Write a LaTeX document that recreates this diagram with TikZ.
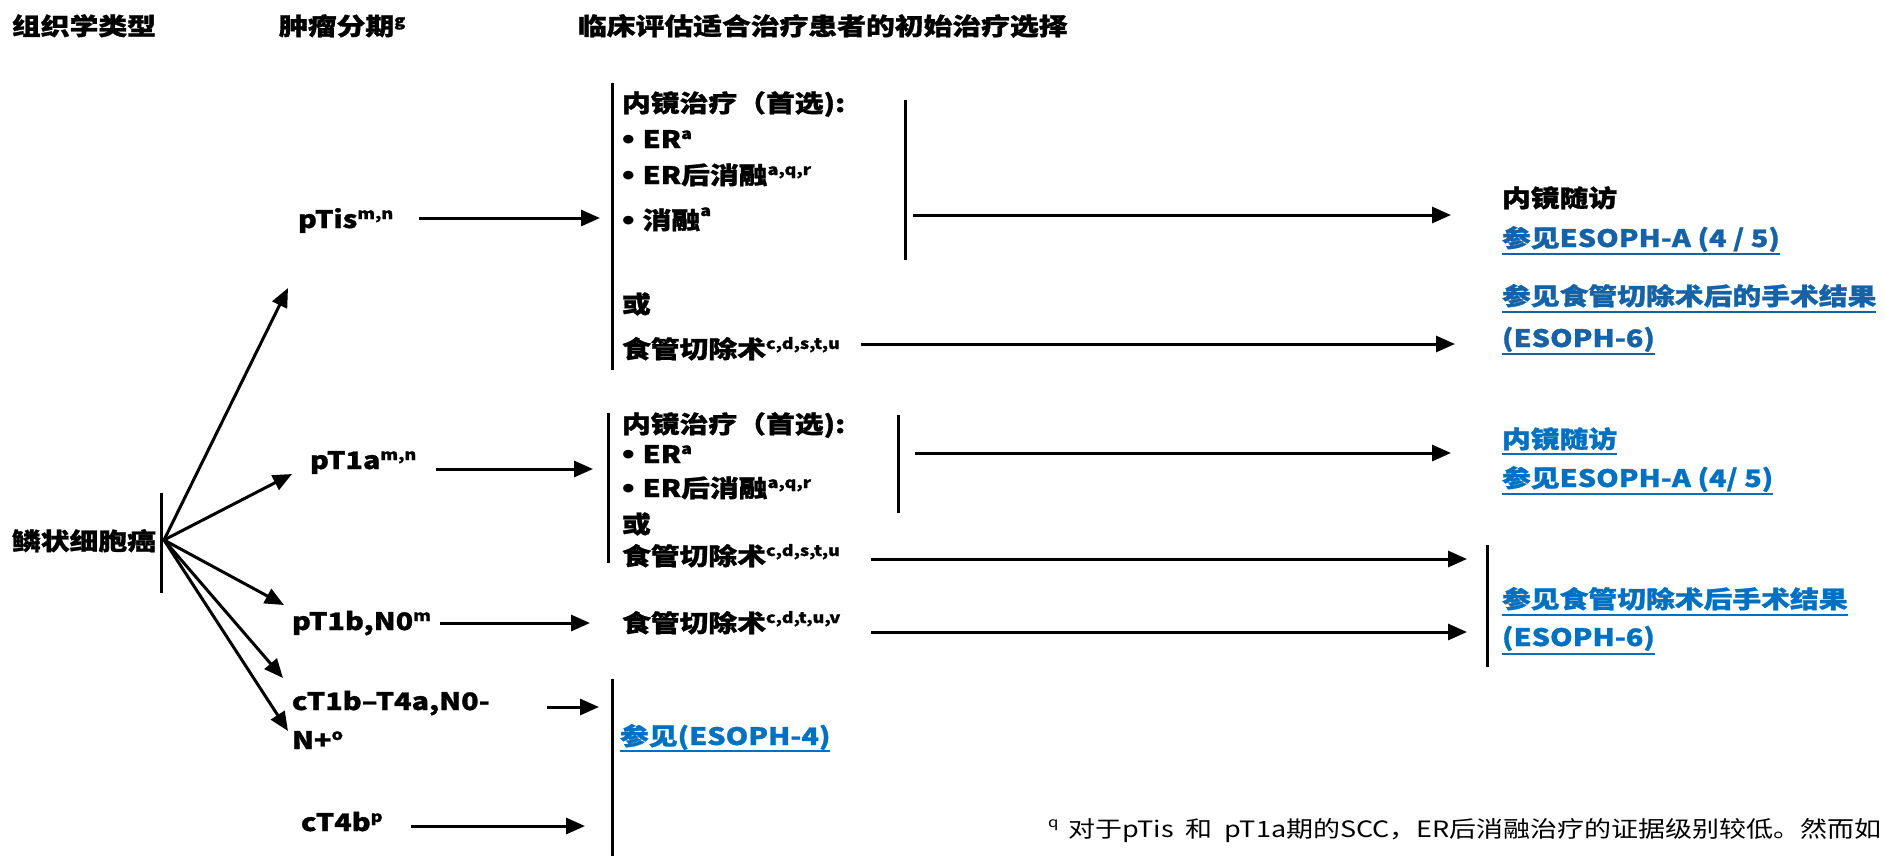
\documentclass[tikz,border=0pt]{standalone}
\usepackage{fontspec}
\setmainfont{Noto Sans CJK SC}[FakeStretch=1.2, BoldFeatures={FakeBold=1.2}]
\newfontfamily\bulf{Liberation Sans}[FakeStretch=1.2]
\usetikzlibrary{arrows.meta}
\definecolor{linkA}{RGB}{22,98,166}
\definecolor{linkB}{RGB}{0,112,192}
\newcommand\sps[1]{\raisebox{9pt}{\fontsize{15}{15}\selectfont #1}}
\newcommand\bul{{\bulf\fontsize{30}{30}\selectfont\raisebox{-1pt}{\textbullet}\fontsize{24}{24}\selectfont\ }}
\begin{document}
\begin{tikzpicture}[x=1pt,y=-1pt,
  txt/.style={anchor=base west, inner sep=0pt, outer sep=0pt, font=\bfseries\fontsize{24}{28}\selectfont},
  lnkA/.style={txt, text=linkA},
  lnkB/.style={txt, text=linkB},
  arr/.style={line width=3pt, -{Triangle[length=19pt,width=16pt]}},
  bar/.style={line width=3pt},
  ulA/.style={line width=2.6pt, draw=linkA},
  ulB/.style={line width=2.6pt, draw=linkB},
  note/.style={anchor=base west, inner sep=0pt, outer sep=0pt, font=\fontsize{22.5}{27}\selectfont}]
\useasboundingbox (0,0) rectangle (1885,855);
\clip (0,0) rectangle (1885,855);

% headers
\node[txt] (h1) at (12,35) {组织学类型};
\node[txt] (h2) at (279,35) {肿瘤分期\sps{g}};
\node[txt] (h3) at (578,35) {临床评估适合治疗患者的初始治疗选择};

% histology
\node[txt] (scc) at (12,550) {鳞状细胞癌};
\draw[bar] (161,493) coordinate (sccTop) -- (161,593) coordinate (sccBot);
\coordinate (o) at (164,540);

% stages
\node[txt] (ptis) at (298,228) {pTis\sps{m,n}};
\node[txt] (pt1a) at (310,469) {pT1a\sps{m,n}};
\node[txt] (pt1b) at (292,630) {pT1b,N0\sps{m}};
\node[txt] (ct1b) at (292,710) {cT1b–T4a,N0-};
\node[txt] (ct1bb) at (292,749) {N+\sps{o}};
\node[txt] (ct4b) at (301,831) {cT4b\sps{p}};

\coordinate (tPtis) at (288,288);
\coordinate (tPt1a) at (292,474);
\coordinate (tPt1b) at (284,605);
\coordinate (tCt1) at (283,678);
\coordinate (tCt2) at (288,731);
\draw[arr] (o) -- (tPtis);
\draw[arr] (o) -- (tPt1a);
\draw[arr] (o) -- (tPt1b);
\draw[arr] (o) -- (tCt1);
\draw[arr] (o) -- (tCt2);

% group 1 (pTis)
\draw[bar] (612,83) coordinate (b1t) -- (612,370) coordinate (b1b);
\node[txt] (g1a) at (622,112) {内镜治疗（首选):};
\node[txt] (g1b) at (622,148) {\bul ER\sps{a}};
\node[txt] (g1c) at (622,184) {\bul ER后消融\sps{a,q,r}};
\node[txt] (g1d) at (622,229) {\bul 消融\raisebox{13pt}{\fontsize{15}{15}\selectfont a}};
\node[txt] (g1e) at (622,313) {或};
\node[txt] (g1f) at (622,358) {食管切除术\sps{c,d,s,t,u}};
\draw[bar] (905,100) coordinate (b1rt) -- (905,260) coordinate (b1rb);

\coordinate (aPtisS) at (419,218);
\coordinate (aPtisE) at (600,218);
\draw[arr] (aPtisS) -- (aPtisE);
\coordinate (g1EndoS) at (913,215);
\coordinate (g1EndoE) at (1451,215);
\draw[arr] (g1EndoS) -- (g1EndoE);
\coordinate (g1EsoS) at (861,344);
\coordinate (g1EsoE) at (1455,344);
\draw[arr] (g1EsoS) -- (g1EsoE);

\node[txt] (r1a) at (1502,207) {内镜随访};
\node[lnkA] (r1b) at (1502,247) {参见ESOPH-A (4 / 5)};
\node[lnkA] (r1c) at (1502,305) {参见食管切除术后的手术结果};
\node[lnkA] (r1d) at (1502,347) {(ESOPH-6)};
\draw[ulA] ([yshift=-7pt]r1b.base west) -- ([yshift=-7pt]r1b.base east);
\draw[ulA] ([yshift=-7pt]r1c.base west) -- ([yshift=-7pt]r1c.base east);
\draw[ulA] ([yshift=-7pt]r1d.base west) -- ([yshift=-7pt]r1d.base east);

% group 2 (pT1a)
\draw[bar] (608,413) coordinate (b2t) -- (608,563) coordinate (b2b);
\node[txt] (g2a) at (622,433) {内镜治疗（首选):};
\node[txt] (g2b) at (622,463) {\bul ER\sps{a}};
\node[txt] (g2c) at (622,497) {\bul ER后消融\sps{a,q,r}};
\node[txt] (g2d) at (622,533) {或};
\node[txt] (g2e) at (622,565) {食管切除术\sps{c,d,s,t,u}};
\node[txt] (g2f) at (622,632) {食管切除术\sps{c,d,t,u,v}};
\draw[bar] (898,415) coordinate (b2rt) -- (898,513) coordinate (b2rb);

\coordinate (aPt1aS) at (436,469);
\coordinate (aPt1aE) at (593,469);
\draw[arr] (aPt1aS) -- (aPt1aE);
\coordinate (aPt1bS) at (440,623);
\coordinate (aPt1bE) at (590,623);
\draw[arr] (aPt1bS) -- (aPt1bE);
\coordinate (g2EndoS) at (915,453);
\coordinate (g2EndoE) at (1451,453);
\draw[arr] (g2EndoS) -- (g2EndoE);
\coordinate (g2EsoS) at (871,559);
\coordinate (g2EsoE) at (1467,559);
\draw[arr] (g2EsoS) -- (g2EsoE);
\coordinate (g3EsoS) at (871,632);
\coordinate (g3EsoE) at (1467,632);
\draw[arr] (g3EsoS) -- (g3EsoE);

\node[lnkB] (r2a) at (1502,448) {内镜随访};
\node[lnkB] (r2b) at (1502,487) {参见ESOPH-A (4/ 5)};
\draw[ulB] ([yshift=-6pt]r2a.base west) -- ([yshift=-6pt]r2a.base east);
\draw[ulB] ([yshift=-7pt]r2b.base west) -- ([yshift=-7pt]r2b.base east);
\draw[bar] (1487,545) coordinate (bRt) -- (1487,667) coordinate (bRb);
\node[lnkB] (r2c) at (1502,608) {参见食管切除术后手术结果};
\node[lnkB] (r2d) at (1502,646) {(ESOPH-6)};
\draw[ulB] ([yshift=-7pt]r2c.base west) -- ([yshift=-7pt]r2c.base east);
\draw[ulB] ([yshift=-8pt]r2d.base west) -- ([yshift=-8pt]r2d.base east);

% group 3
\coordinate (aCt1S) at (547,707);
\coordinate (aCt1E) at (599,707);
\draw[arr] (aCt1S) -- (aCt1E);
\coordinate (aCt4S) at (411,826);
\coordinate (aCt4E) at (585,826);
\draw[arr] (aCt4S) -- (aCt4E);
\draw[bar] (612,679) coordinate (b3t) -- (612,870) coordinate (b3b);
\node[lnkB] (r3) at (620,745) {参见(ESOPH-4)};
\draw[ulB] ([yshift=-6pt]r3.base west) -- ([yshift=-6pt]r3.base east);

% footnote
\node[note] (fn) at (1048,837) {\raisebox{10pt}{\fontsize{14}{14}\selectfont q}\hspace{10pt}对于pTis\ \ 和\ \ pT1a期的SCC，ER后消融治疗的证据级别较低。然而如};
\end{tikzpicture}
\end{document}
